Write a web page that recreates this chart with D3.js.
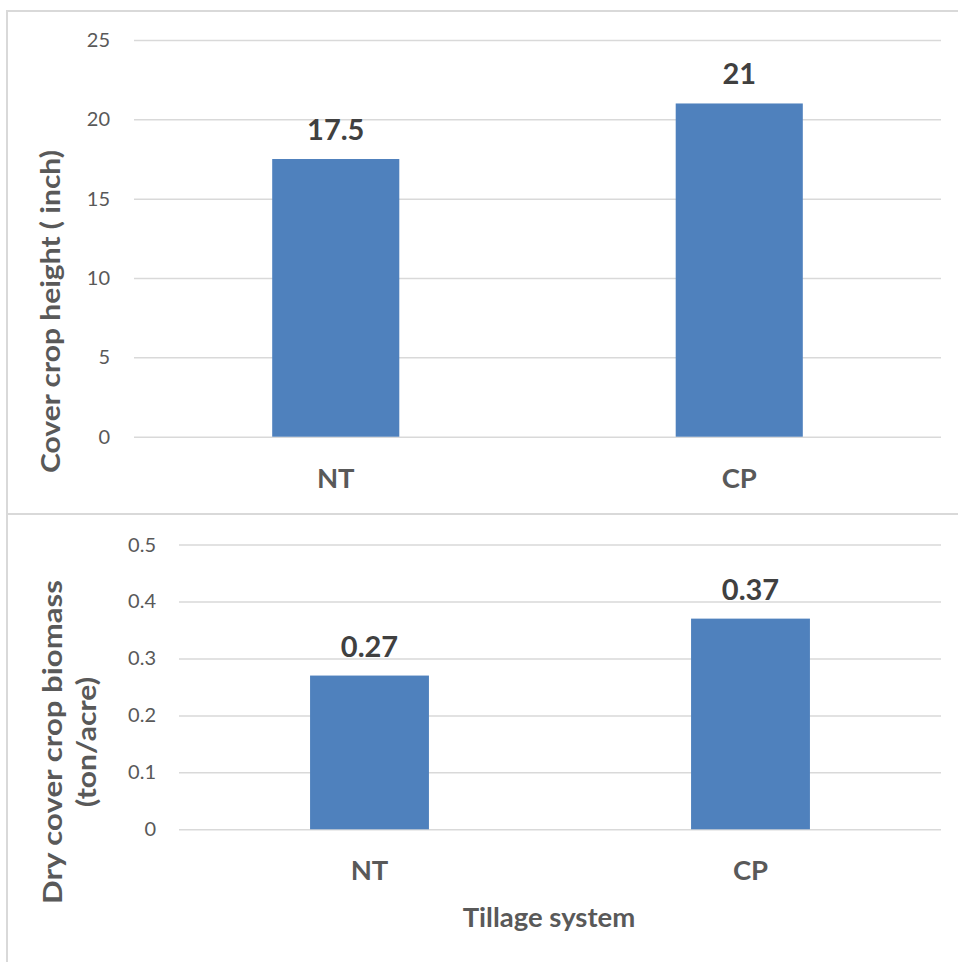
<!DOCTYPE html>
<html>
<head>
<meta charset="utf-8">
<script src="https://cdn.jsdelivr.net/npm/d3@7"></script>
<style>
  html, body { margin: 0; padding: 0; background: #ffffff; }
  svg { display: block; font-family: Lato, "Open Sans", sans-serif; }
</style>
</head>
<body>
<svg id="chart" width="958" height="962"></svg>
<script>
// Tillage systems compared in both panels
const categories = ["NT", "CP"];

// Panel 1: cover crop height (inch)
const heightValues = [17.5, 21];
const heightTicks = [0, 5, 10, 15, 20, 25];
const heightTitle = ["Cover crop height ( inch)"];

// Panel 2: dry cover crop biomass (ton/acre)
const biomassValues = [0.27, 0.37];
const biomassTicks = [0, 0.1, 0.2, 0.3, 0.4, 0.5];
const biomassTitle = ["Dry cover crop biomass", "(ton/acre)"];

const xAxisTitle = "Tillage system";

const svg = d3.select("#chart");
const BAR = "#4f81bd";
const GRID = "#d9d9d9";

// panel frames
svg.append("path")
  .attr("d", "M958,11 H7 V962 M7,514 H958")
  .attr("fill", "none")
  .attr("stroke", GRID)
  .attr("stroke-width", 2);

function drawPanel(o) {
  const g = svg.append("g");
  const x = d3.scaleBand().domain(categories).range([o.left, o.right]).padding(0);
  const y = d3.scaleLinear().domain([0, d3.max(o.ticks)]).range([o.bottom, o.top]);

  // gridlines + tick labels
  const axis = d3.axisLeft(y)
    .tickValues(o.ticks)
    .tickFormat(o.fmt)
    .tickSize(-(o.right - o.left))
    .tickPadding(o.labelGap);
  const ag = g.append("g").attr("transform", `translate(${o.left},0)`).call(axis);
  ag.select(".domain").remove();
  ag.selectAll(".tick line").attr("stroke", GRID).attr("stroke-width", 1.5);
  ag.selectAll(".tick text")
    .attr("fill", "#595959")
    .style("font-size", "20px")
    .style("font-family", "Lato, sans-serif");

  // bars
  const bw = x.bandwidth() * o.barFrac;
  g.selectAll("rect.bar").data(o.values).join("rect")
    .attr("class", "bar")
    .attr("x", (d, i) => x(categories[i]) + (x.bandwidth() - bw) / 2)
    .attr("width", bw)
    .attr("y", d => y(d))
    .attr("height", d => y(0) - y(d))
    .attr("fill", BAR);

  // value labels
  g.selectAll("text.val").data(o.values).join("text")
    .attr("class", "val")
    .attr("x", (d, i) => x(categories[i]) + x.bandwidth() / 2)
    .attr("y", d => y(d) - 19)
    .attr("text-anchor", "middle")
    .attr("fill", "#404040")
    .style("font-size", "29px")
    .style("font-weight", "bold")
    .text(d => d);

  // category labels
  g.selectAll("text.cat").data(categories).join("text")
    .attr("class", "cat")
    .attr("x", d => x(d) + x.bandwidth() / 2)
    .attr("y", o.bottom + 51)
    .attr("text-anchor", "middle")
    .attr("fill", "#595959")
    .style("font-size", "27.5px")
    .style("font-weight", "bold")
    .text(d => d);

  // y axis title (rotated)
  const t = g.append("text")
    .attr("transform", `translate(${o.titleX},${o.titleY}) rotate(-90)`)
    .attr("text-anchor", "middle")
    .attr("fill", "#595959")
    .style("font-size", "26px")
    .style("font-weight", "bold");
  o.title.forEach((line, i) => {
    t.append("tspan")
      .attr("x", 0)
      .attr("y", i * 34)
      .attr("textLength", o.titleLengths[i])
      .attr("lengthAdjust", "spacingAndGlyphs")
      .text(line);
  });
  return { x, y };
}

drawPanel({
  values: heightValues, ticks: heightTicks, title: heightTitle,
  titleLengths: [323],
  fmt: d => d3.format("d")(d),
  left: 134, right: 941, top: 40, bottom: 436.7,
  labelGap: 24, barFrac: 0.315,
  titleX: 60, titleY: 311.5
});

drawPanel({
  values: biomassValues, ticks: biomassTicks, title: biomassTitle,
  titleLengths: [324, 130],
  fmt: d => d === 0 ? "0" : d3.format(".1f")(d),
  left: 179, right: 941, top: 544.6, bottom: 829.3,
  labelGap: 23, barFrac: 0.312,
  titleX: 62, titleY: 742
});

// shared x axis title
svg.append("text")
  .attr("x", 549)
  .attr("y", 927)
  .attr("text-anchor", "middle")
  .attr("fill", "#595959")
  .style("font-size", "27.5px")
  .style("font-weight", "bold")
  .text(xAxisTitle);
</script>
</body>
</html>
